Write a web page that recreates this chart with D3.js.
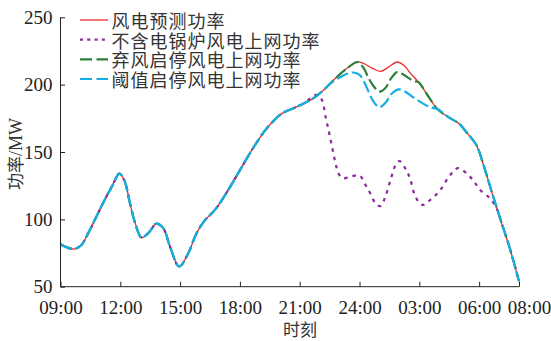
<!DOCTYPE html>
<html><head><meta charset="utf-8">
<script src="https://cdn.jsdelivr.net/npm/d3@7"></script>
<style>
html,body{margin:0;padding:0;background:#fff;}
svg{display:block;}
</style></head>
<body>
<svg id="chart" width="551" height="341"></svg>
<script>
// ---- data ----
const xTickHours = [0, 3, 6, 9, 12, 15, 18, 21, 23];
const xTickLabels = ["09:00", "12:00", "15:00", "18:00", "21:00", "24:00", "03:00", "06:00", "08:00"];
const yTicks = [50, 100, 150, 200, 250];
const seriesNames = ["风电预测功率", "不含电锅炉风电上网功率", "弃风启停风电上网功率", "阈值启停风电上网功率"];

const forecastHours = [0,0.35,0.7,1.05,1.4,1.8,2.2,2.6,2.95,3.2,3.5,3.75,4.07,4.45,4.8,5.15,5.5,5.95,6.4,6.8,7.2,7.8,8.4,9.1,9.75,10.4,11.1,11.6,12.2,12.7,13.2,13.85,14.4,14.9,15.2,15.6,16.05,16.45,16.9,17.25,17.55,17.95,18.4,18.9,19.5,20.0,20.4,20.85,21.25,21.65,22.1,22.55,23];
const forecastValues = [81.5,79,78,81,90,102,114,125,134,129,111,97,86.5,90.5,96.8,93.5,79.5,65,74.5,89,98.5,108,121.5,139,155,168.5,178.5,182,186,190,196,205.5,212.5,216.8,215.8,212.5,209.8,213,216.8,214,208.5,202,192.5,182,175.5,171,164,155.5,139,119.5,98.5,78,54];

const noBoilerHours = [0,0.35,0.7,1.05,1.4,1.8,2.2,2.6,2.95,3.2,3.5,3.75,4.07,4.45,4.8,5.15,5.5,5.95,6.4,6.8,7.2,7.8,8.4,9.1,9.75,10.4,11.1,11.6,12.2,12.5,12.85,13.1,13.3,13.45,13.62,13.8,13.95,14.15,14.55,15.0,15.3,15.55,15.8,16.05,16.3,16.55,16.8,17.0,17.35,17.55,17.8,18.15,18.55,19.05,19.55,19.95,20.45,20.75,21.05,21.55,21.9,22.1,22.55,23];
const noBoilerValues = [81.5,79,78,81,90,102,114,125,134,129,111,97,86.5,90.5,96.8,93.5,79.5,65,74.5,89,98.5,108,121.5,139,155,168.5,178.5,182,186,189.5,192.5,189,176,166,154,141.5,134,130.5,131.8,132.5,125.5,119,112,109.8,117,129,140,143.3,136.5,129.5,117,110.7,114.4,121.8,133,138,133,128,121.8,115.5,107.5,98.5,78,54];

const curtailHours = [0,0.35,0.7,1.05,1.4,1.8,2.2,2.6,2.95,3.2,3.5,3.75,4.07,4.45,4.8,5.15,5.5,5.95,6.4,6.8,7.2,7.8,8.4,9.1,9.75,10.4,11.1,11.6,12.2,12.7,13.2,13.85,14.4,14.9,15.2,15.45,15.7,16.0,16.3,16.6,16.9,17.2,17.45,17.75,17.95,18.4,18.9,19.5,20.0,20.4,20.85,21.25,21.65,22.1,22.55,23];
const curtailValues = [81.5,79,78,81,90,102,114,125,134,129,111,97,86.5,90.5,96.8,93.5,79.5,65,74.5,89,98.5,108,121.5,139,155,168.5,178.5,182,186,190,196,205.5,212.5,216.8,212.5,205,199,194.8,197.5,205,209.5,207.5,205,202.5,202,192.5,182,175.5,171,164,155.5,139,119.5,98.5,78,54];

const thresholdHours = [0,0.35,0.7,1.05,1.4,1.8,2.2,2.6,2.95,3.2,3.5,3.75,4.07,4.45,4.8,5.15,5.5,5.95,6.4,6.8,7.2,7.8,8.4,9.1,9.75,10.4,11.1,11.6,12.2,12.7,13.2,13.6,14.0,14.4,14.7,15.0,15.2,15.45,15.7,16.0,16.3,16.6,16.95,17.3,17.7,18.3,18.6,18.9,19.5,20.0,20.4,20.85,21.25,21.65,22.1,22.55,23];
const thresholdValues = [81.5,79,78,81,90,102,114,125,134,129,111,97,86.5,90.5,96.8,93.5,79.5,65,74.5,89,98.5,108,121.5,139,155,168.5,178.5,182,186,190,196,201.5,205.3,208.3,209,207.3,203,195,187.5,183.2,186.5,193,196.5,194.8,190.5,185,183,182,175.5,171,164,155.5,139,119.5,98.5,78,54];

// ---- styles ----
const colors = ["#ee2a2a", "#8b2a9c", "#2d7f3a", "#14aee8"];
const widths = [1.3, 2.2, 2.2, 2.2];
const dashes = [null, "3.5,5", "12,4", "12,4"];
const legendDashes = [null, "3,4.3", "12,4.5", "12,4.5"];

const cjk = "'Noto Sans CJK SC', 'Noto Sans', sans-serif";
const serif = "'Liberation Serif', 'DejaVu Serif', serif";

const svg = d3.select("#chart");
const plotLeft = 60.5, plotRight = 519, plotTop = 17.3, plotBottom = 286.7;
const x = d3.scaleLinear().domain([0, 23]).range([plotLeft, plotRight]);
const y = d3.scaleLinear().domain([50, 250]).range([plotBottom, plotTop]);

const seriesList = [
  [forecastHours, forecastValues],
  [noBoilerHours, noBoilerValues],
  [curtailHours, curtailValues],
  [thresholdHours, thresholdValues]
];

const line = d3.line()
  .x(d => x(d[0])).y(d => y(d[1]))
  .curve(d3.curveCatmullRom.alpha(0.5));

seriesList.forEach((s, i) => {
  const pts = s[0].map((h, k) => [h, s[1][k]]);
  svg.append("path")
    .attr("d", line(pts))
    .attr("fill", "none")
    .attr("stroke", colors[i])
    .attr("stroke-width", widths[i])
    .attr("stroke-dasharray", dashes[i])
    .attr("stroke-linejoin", "round");
});

// axes
const xAxis = svg.append("g").attr("transform", `translate(0,${plotBottom})`)
  .call(d3.axisBottom(x).tickValues(xTickHours).tickSize(-5).tickFormat((d, i) => xTickLabels[i]).tickPadding(14));
xAxis.select(".domain").attr("stroke", "#222").attr("d", `M${plotLeft},0H${plotRight}`);
xAxis.selectAll(".tick line").attr("stroke", "#222");
xAxis.selectAll(".tick text")
  .attr("font-family", serif).attr("font-size", 19).attr("fill", "#222")
  .attr("dy", "0.71em")
  .attr("dx", (d, i) => i === xTickHours.length - 1 ? 10 : 0);

const yAxis = svg.append("g").attr("transform", `translate(${plotLeft},0)`)
  .call(d3.axisLeft(y).tickValues(yTicks).tickSize(-4.5).tickPadding(8));
yAxis.select(".domain").attr("stroke", "#222").attr("d", `M0,${plotTop}V${plotBottom}`);
yAxis.selectAll(".tick line").attr("stroke", "#222");
yAxis.selectAll(".tick text")
  .attr("font-family", serif).attr("font-size", 19).attr("fill", "#222");

// axis titles
svg.append("text")
  .attr("x", 300).attr("y", 336)
  .attr("text-anchor", "middle")
  .attr("font-family", cjk).attr("font-size", 17).attr("fill", "#333")
  .text("时刻");

const yt = svg.append("text")
  .attr("transform", "translate(22,154) rotate(-90)")
  .attr("text-anchor", "middle")
  .attr("fill", "#333").attr("font-size", 17);
yt.append("tspan").attr("font-family", cjk).text("功率");
yt.append("tspan").attr("font-family", serif).attr("font-size", 18).text("/MW");

// legend
const legendY = [20, 39.7, 59.3, 79];
seriesNames.forEach((name, i) => {
  svg.append("line")
    .attr("x1", 80).attr("x2", 108)
    .attr("y1", legendY[i]).attr("y2", legendY[i])
    .attr("stroke", colors[i]).attr("stroke-width", widths[i])
    .attr("stroke-dasharray", legendDashes[i]);
  svg.append("text")
    .attr("x", 111.5).attr("y", legendY[i])
    .attr("dominant-baseline", "central")
    .attr("font-family", cjk).attr("font-size", 18).attr("letter-spacing", 1).attr("fill", "#333")
    .text(name);
});
</script>
</body></html>
